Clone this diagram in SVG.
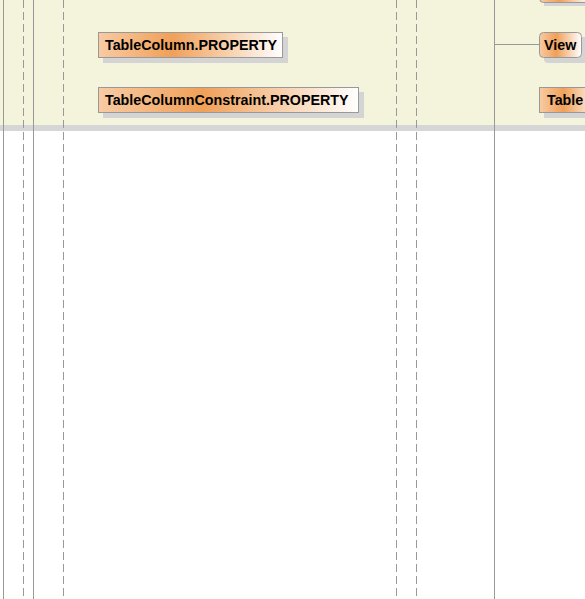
<svg xmlns="http://www.w3.org/2000/svg" width="585" height="599" viewBox="0 0 585 599">
<defs>
<linearGradient id="g" x1="0" y1="0" x2="1" y2="0">
<stop offset="0" stop-color="#f8cba4"/>
<stop offset="0.4" stop-color="#f0a058"/>
<stop offset="1" stop-color="#ffffff"/>
</linearGradient>
<style>
.bx{fill:url(#g);stroke:#999999;stroke-width:1}
.sh{fill:#d4d4d4}
.t{font-family:"Liberation Sans",Arial,sans-serif;font-weight:bold;font-size:14.3px;fill:#000}
.ls{stroke:#999999;stroke-width:1;fill:none}
.ld{stroke:#999999;stroke-width:1;fill:none;stroke-dasharray:8,4}
</style>
</defs>
<rect x="0" y="0" width="585" height="599" fill="#ffffff"/>
<rect x="0" y="0" width="585" height="125" fill="#f4f4dc"/>
<rect x="0" y="125" width="585" height="6" fill="#d6d6d6"/>
<g id="lanes">
<line class="ls" x1="3.5" y1="0" x2="3.5" y2="599"/>
<line class="ld" x1="23.5" y1="0" x2="23.5" y2="599"/>
<line class="ls" x1="33.5" y1="0" x2="33.5" y2="599"/>
<line class="ld" x1="63.5" y1="0" x2="63.5" y2="599"/>
<line class="ld" x1="396.5" y1="0" x2="396.5" y2="599"/>
<line class="ld" x1="416.5" y1="0" x2="416.5" y2="599"/>
<line class="ls" x1="494.5" y1="0" x2="494.5" y2="599"/>
</g>
<g id="connectors">
<line class="ls" x1="494.5" y1="44.5" x2="539.5" y2="44.5"/>
<line class="ls" x1="581.5" y1="44.5" x2="585" y2="44.5"/>
</g>
<g id="top-node">
<rect class="sh" x="544" y="-20" width="46" height="26"/>
<rect class="bx" x="539.5" y="-22.5" width="50" height="25" rx="4"/>
</g>
<g id="tablecolumn-property">
<rect class="sh" x="103" y="37" width="185" height="26"/>
<rect class="bx" x="98.5" y="32.5" width="184" height="25"/>
<text class="t" x="105" y="49.5">TableColumn.PROPERTY</text>
</g>
<g id="tablecolumnconstraint-property">
<rect class="sh" x="103" y="92" width="261" height="26"/>
<rect class="bx" x="98.5" y="87.5" width="260" height="25"/>
<text class="t" x="105" y="104.5">TableColumnConstraint.PROPERTY</text>
</g>
<g id="view">
<rect class="sh" x="544" y="37" width="44" height="26" rx="4"/>
<rect class="bx" x="539.5" y="32.5" width="42" height="25" rx="4"/>
<text class="t" x="544" y="49.5">View</text>
</g>
<g id="table">
<rect class="sh" x="544" y="92" width="50" height="26"/>
<rect class="bx" x="539.5" y="87.5" width="60" height="25"/>
<text class="t" x="547" y="104.5">Table</text>
</g>
</svg>
